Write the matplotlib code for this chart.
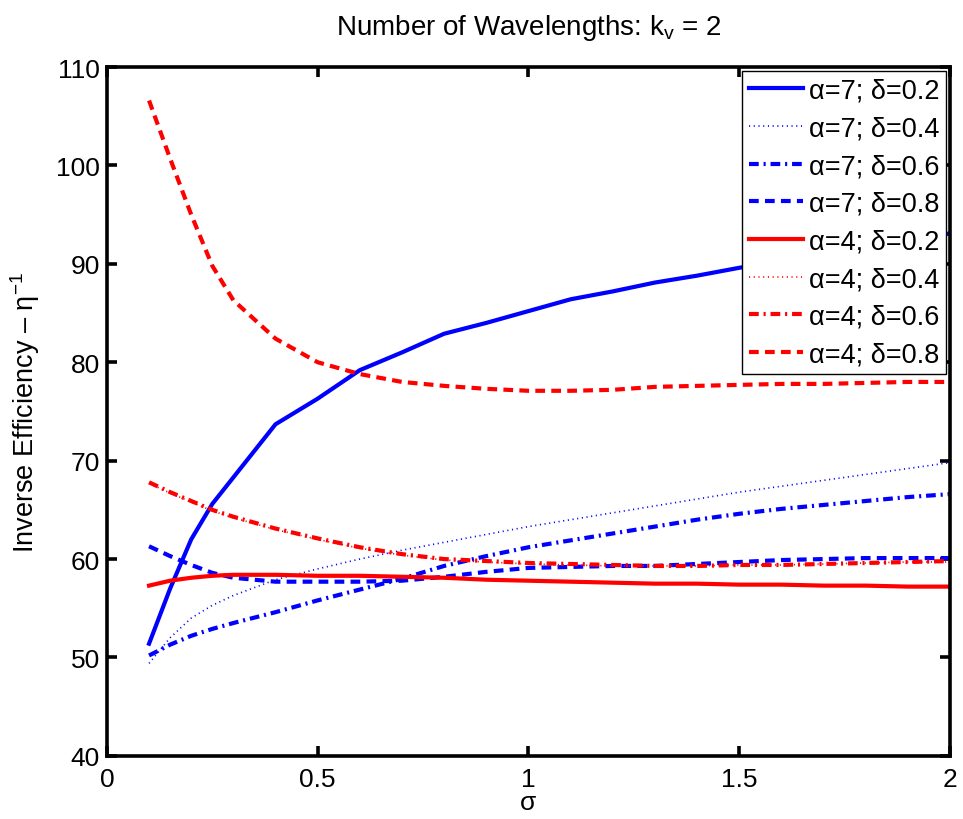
import numpy as np
import matplotlib
matplotlib.use("Agg")
import matplotlib.pyplot as plt

plt.rcParams['font.family'] = ['Liberation Sans', 'DejaVu Sans']
plt.rcParams['mathtext.fontset'] = 'custom'
plt.rcParams['mathtext.rm'] = 'Liberation Sans'
plt.rcParams['mathtext.it'] = 'Liberation Sans'
plt.rcParams['lines.scale_dashes'] = False

# sigma grid
sigma = [0.1, 0.15, 0.2, 0.25, 0.3, 0.4, 0.5, 0.6, 0.7, 0.8, 0.9, 1.0,
         1.1, 1.2, 1.3, 1.4, 1.5, 1.6, 1.7, 1.8, 1.9, 2.0]

# alpha = 7
a7_d02 = [51.4, 57.0, 62.0, 65.6, 68.3, 73.7, 76.3, 79.2, 81.0, 82.9, 84.0, 85.2,
          86.4, 87.2, 88.1, 88.8, 89.6, 90.3, 91.0, 91.7, 92.4, 93.1]
a7_d04 = [49.4, 52.0, 54.0, 55.3, 56.3, 57.9, 59.0, 60.0, 60.9, 61.7, 62.5, 63.3,
          64.0, 64.7, 65.4, 66.1, 66.8, 67.4, 68.0, 68.6, 69.2, 69.8]
a7_d06 = [50.2, 51.3, 52.2, 52.9, 53.5, 54.6, 55.8, 56.9, 58.0, 59.3, 60.3, 61.2,
          61.9, 62.6, 63.3, 64.0, 64.6, 65.1, 65.5, 65.9, 66.3, 66.6]
a7_d08 = [61.3, 60.3, 59.4, 58.6, 58.1, 57.7, 57.7, 57.7, 57.8, 58.2, 58.7, 59.1,
          59.2, 59.3, 59.3, 59.5, 59.7, 59.9, 60.0, 60.1, 60.1, 60.1]

# alpha = 4
a4_d02 = [57.3, 57.8, 58.1, 58.3, 58.4, 58.4, 58.3, 58.3, 58.2, 58.1, 57.9, 57.8,
          57.7, 57.6, 57.5, 57.5, 57.4, 57.4, 57.3, 57.3, 57.2, 57.2]
a4_d04 = [67.7, 66.7, 65.8, 64.9, 64.2, 63.0, 62.0, 61.1, 60.4, 59.9, 59.7, 59.5,
          59.4, 59.3, 59.3, 59.3, 59.4, 59.4, 59.5, 59.6, 59.7, 59.7]
a4_d06 = [67.8, 66.8, 65.9, 65.0, 64.3, 63.1, 62.1, 61.2, 60.5, 60.0, 59.8, 59.6,
          59.5, 59.4, 59.3, 59.3, 59.4, 59.4, 59.5, 59.6, 59.7, 59.8]
a4_d08 = [106.6, 100.7, 95.0, 89.8, 86.3, 82.4, 80.0, 78.8, 78.0, 77.6, 77.3, 77.1,
          77.1, 77.2, 77.5, 77.6, 77.7, 77.8, 77.8, 77.9, 78.0, 78.0]

labels = ['α=7; δ=0.2', 'α=7; δ=0.4', 'α=7; δ=0.6', 'α=7; δ=0.8',
          'α=4; δ=0.2', 'α=4; δ=0.4', 'α=4; δ=0.6', 'α=4; δ=0.8']

series = [a7_d02, a7_d04, a7_d06, a7_d08, a4_d02, a4_d04, a4_d06, a4_d08]
colors = ['blue'] * 4 + ['red'] * 4

solid = dict(linestyle='-', linewidth=3.0)
dotted = dict(linestyle=(0, (0.8, 2.6)), linewidth=1.2)
dashdot = dict(linestyle=(0, (7, 3.5, 1.5, 3.5)), linewidth=3.0)
dashed = dict(linestyle=(0, (7, 4.5)), linewidth=3.0)
styles = [solid, dotted, dashdot, dashed] * 2

fig = plt.figure(figsize=(9.63, 8.2), dpi=100)
ax = fig.add_axes([0.111, 0.077, 0.8755, 0.840])

for y, c, st, lab in zip(series, colors, styles, labels):
    ax.plot(sigma, y, color=c, label=lab, **st)

ax.set_xlim(0, 2)
ax.set_ylim(40, 110)
ax.set_xticks([0, 0.5, 1, 1.5, 2])
ax.set_xticklabels(['0', '0.5', '1', '1.5', '2'])
ax.set_yticks(range(40, 111, 10))

for sp in ax.spines.values():
    sp.set_linewidth(2.6)
ax.tick_params(direction='in', length=7, width=2.6, labelsize=19,
               top=True, right=True, pad=5)
ax.tick_params(axis='x', pad=8)

ax.set_xlabel('σ', fontsize=19, labelpad=-1)
ax.set_ylabel('Inverse Efficiency – η$^{-1}$', fontsize=19.5, labelpad=10)
ax.set_title('Number of Wavelengths: k$_{\\mathrm{v}}$ = 2', fontsize=20, pad=24)

leg = ax.legend(loc='upper right', fontsize=19.5, handlelength=2.0,
                handletextpad=0.2, labelspacing=0.43, borderpad=0.25,
                borderaxespad=0.15, fancybox=False, framealpha=1)
leg.get_frame().set_edgecolor('black')
leg.get_frame().set_linewidth(1.0)

fig.savefig('out.png', dpi=100)
